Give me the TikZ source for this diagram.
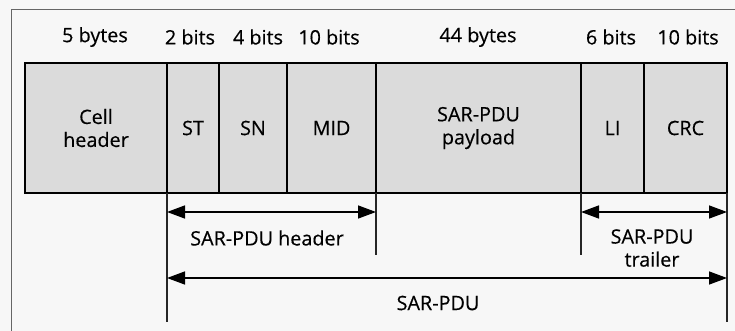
\documentclass[tikz,border=0pt]{standalone}
\usepackage{fontspec}
\setmainfont{Open Sans}[FakeBold=0.35]
\usetikzlibrary{arrows.meta}
\newcommand\lblfont{\fontsize{19.8}{23}\selectfont}
\tikzset{
  field/.style={draw=black, line width=1.1pt, fill=black!14, anchor=north west,
    minimum height=130pt, inner sep=0pt, outer sep=0pt, align=center,
    font=\lblfont},
  sizelabel/.style={font=\lblfont, inner sep=0pt},
  spanlabel/.style={font=\lblfont, inner sep=0pt, align=center},
  extline/.style={line width=1.1pt, black!85},
  dimarrow/.style={line width=1.4pt, {Triangle[length=18pt,width=13pt]}-{Triangle[length=18pt,width=13pt]}},
  frameline/.style={line width=1pt, black!60}
}
\begin{document}
\begin{tikzpicture}[x=1pt,y=-1pt]
  \useasboundingbox (0,0) rectangle (735,331);
  \fill[black!3] (0,0) rectangle (735,331);
  % outer frame (top and left edges)
  \coordinate (ftl) at (11,10);
  \coordinate (ftr) at (735,10);
  \coordinate (fbl) at (11,331);
  \draw[frameline] (ftr) -- (ftl) -- (fbl);

  % cell fields
  \node[field, minimum width=142pt] (cell) at (25,63) {Cell\\header};
  \node[field, minimum width=52pt]  (st)   at (167,63) {ST};
  \node[field, minimum width=68pt]  (sn)   at (219,63) {SN};
  \node[field, minimum width=89pt]  (mid)  at (287,63) {MID};
  \node[field, minimum width=205pt] (pay)  at (376,63) {SAR-PDU\\payload};
  \node[field, minimum width=63pt]  (li)   at (581,63) {LI};
  \node[field, minimum width=83pt]  (crc)  at (644,63) {CRC};

  % field sizes
  \node[sizelabel] (s1) at (95,37)  {5 bytes};
  \node[sizelabel] (s2) at (190,37) {2 bits};
  \node[sizelabel] (s3) at (258,37) {4 bits};
  \node[sizelabel] (s4) at (329,37) {10 bits};
  \node[sizelabel] (s5) at (478,37) {44 bytes};
  \node[sizelabel] (s6) at (611,37) {6 bits};
  \node[sizelabel] (s7) at (688,37) {10 bits};

  % extension lines
  \coordinate (e1) at (167,322);
  \coordinate (e2) at (376,255);
  \coordinate (e3) at (581,255);
  \coordinate (e4) at (727,322);
  \draw[extline] (cell.south east) -- (e1);
  \draw[extline] (mid.south east) -- (e2);
  \draw[extline] (li.south west) -- (e3);
  \draw[extline] (crc.south east) -- (e4);

  % dimension arrows
  \coordinate (hl) at (167,212);
  \coordinate (hr) at (376,212);
  \coordinate (tl) at (581,212);
  \coordinate (tr) at (727,212);
  \coordinate (pl) at (167,278);
  \coordinate (pr) at (727,278);
  \draw[dimarrow] (hl) -- (hr);
  \draw[dimarrow] (tl) -- (tr);
  \draw[dimarrow] (pl) -- (pr);

  \node[spanlabel] (hdr) at (267,238) {SAR-PDU header};
  \node[spanlabel] (trl) at (652,248) {SAR-PDU\\trailer};
  \node[spanlabel] (pdu) at (438,303) {SAR-PDU};
\end{tikzpicture}
\end{document}
